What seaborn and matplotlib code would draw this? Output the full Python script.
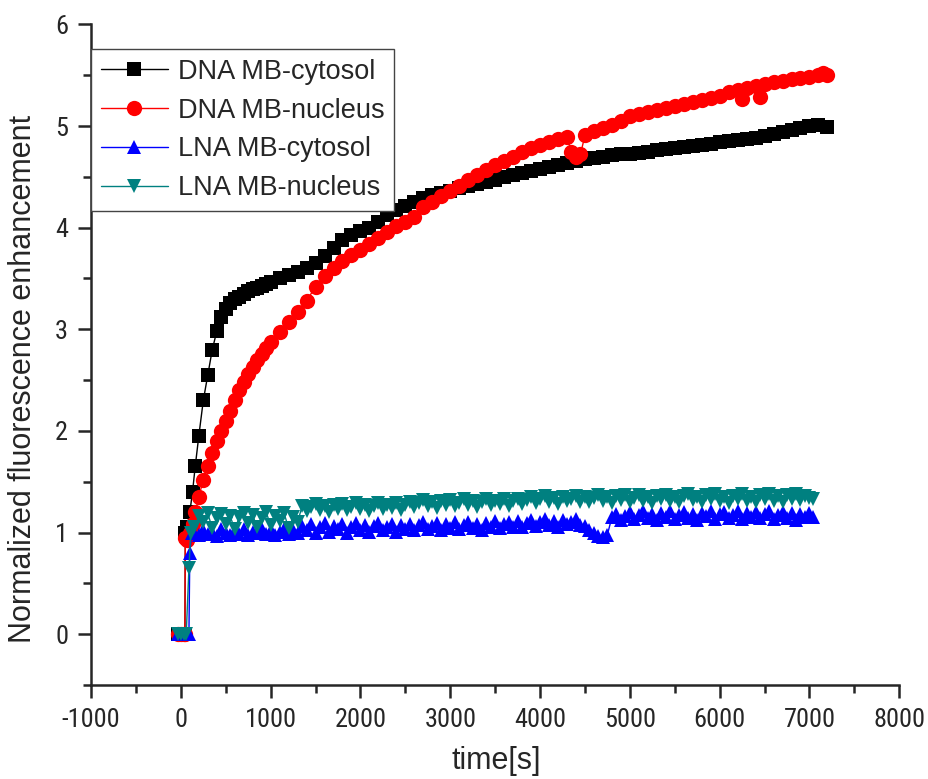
import numpy as np
import pandas as pd
import seaborn as sns
import matplotlib.pyplot as plt
from matplotlib import font_manager
from matplotlib.ticker import MultipleLocator

# ---- data ----
t_dna = [-30, 0, 30, 45, 50, 70, 100, 130, 160, 200, 250, 300, 350, 400, 450, 500, 550, 600,
         650, 700, 750, 800, 850, 900, 950, 1000, 1100, 1200, 1300, 1400, 1500, 1600, 1700,
         1800, 1900, 2000, 2100, 2200, 2300, 2400, 2500, 2600, 2700, 2800, 2900, 3000, 3100,
         3200, 3300, 3400, 3500, 3600, 3700, 3800, 3900, 4000, 4100, 4200, 4300, 4400, 4500,
         4600, 4700, 4800, 4900, 5000, 5100, 5200, 5300, 5400, 5500, 5600, 5700, 5800, 5900,
         6000, 6100, 6200, 6300, 6400, 6500, 6600, 6700, 6800, 6900, 7000, 7100, 7200]
dna_cyto = [0, 0, 0, 0, 1.0, 1.05, 1.2, 1.4, 1.65, 1.95, 2.3, 2.55, 2.8, 2.98, 3.12, 3.2, 3.26, 3.3,
            3.32, 3.35, 3.38, 3.4, 3.41, 3.43, 3.45, 3.47, 3.5, 3.53, 3.56, 3.6, 3.65, 3.72, 3.8,
            3.88, 3.93, 3.97, 4.0, 4.06, 4.12, 4.17, 4.21, 4.25, 4.29, 4.32, 4.34, 4.36, 4.39,
            4.41, 4.43, 4.45, 4.47, 4.5, 4.52, 4.54, 4.56, 4.58, 4.6, 4.62, 4.64, 4.66, 4.68,
            4.69, 4.7, 4.71, 4.72, 4.72, 4.73, 4.74, 4.76, 4.77, 4.78, 4.79, 4.8, 4.81, 4.82,
            4.84, 4.85, 4.86, 4.87, 4.88, 4.9, 4.92, 4.94, 4.96, 4.98, 5.0, 5.01, 4.99]

t_dna_nuc = [-30, 0, 30, 45, 50, 70, 100, 130, 160, 200, 250, 300, 350, 400, 450, 500, 550, 600,
             650, 700, 750, 800, 850, 900, 950, 1000, 1100, 1200, 1300, 1400, 1500, 1600, 1700,
             1800, 1900, 2000, 2100, 2200, 2300, 2400, 2500, 2600, 2700, 2800, 2900, 3000, 3100,
             3200, 3300, 3400, 3500, 3600, 3700, 3800, 3900, 4000, 4100, 4200, 4300, 4350, 4400,
             4450, 4500, 4600, 4700, 4800, 4900, 5000, 5100, 5200, 5300, 5400, 5500, 5600, 5700,
             5800, 5900, 6000, 6100, 6200, 6250, 6300, 6400, 6450, 6500, 6600, 6700, 6800, 6900,
             7000, 7100, 7150, 7200]
dna_nuc = [0, 0, 0, 0, 0.95, 0.93, 1.0, 1.08, 1.2, 1.35, 1.52, 1.65, 1.78, 1.9, 2.0, 2.1, 2.2, 2.3,
           2.4, 2.48, 2.56, 2.63, 2.7, 2.76, 2.82, 2.87, 2.97, 3.07, 3.17, 3.28, 3.42, 3.52, 3.6,
           3.67, 3.73, 3.78, 3.84, 3.9, 3.96, 4.02, 4.06, 4.1, 4.2, 4.25, 4.31, 4.36, 4.41,
           4.47, 4.52, 4.57, 4.62, 4.66, 4.7, 4.74, 4.78, 4.81, 4.84, 4.87, 4.89, 4.74, 4.7,
           4.72, 4.91, 4.95, 4.98, 5.01, 5.05, 5.1, 5.12, 5.14, 5.16, 5.18, 5.2, 5.22, 5.24,
           5.26, 5.28, 5.3, 5.33, 5.35, 5.27, 5.37, 5.39, 5.29, 5.41, 5.43, 5.44, 5.46, 5.47,
           5.48, 5.5, 5.52, 5.5]

# LNA probes were sampled every 50 s after the start
t_lna = [-30, 0, 30, 60, 90, 100, 120] + list(range(150, 7001, 50)) + [7040]
lna_cyto = ([0, 0, 0, 0, 0, 0.8, 1.0] +
            [1.00, 0.98, 1.02, 0.99, 1.01, 0.97, 1.03, 1.00, 0.98, 1.02, 0.99, 1.03,
             0.98, 1.01, 1.00, 1.03, 0.99, 1.02, 0.98, 1.01, 1.03, 0.99, 1.02, 1.00] +
            [1.06, 1.02, 1.08, 1.00, 1.05, 1.09, 1.01, 1.06, 1.03, 1.08, 1.00, 1.05,
             1.09, 1.02, 1.07, 1.01, 1.06, 1.09, 1.02, 1.05, 1.08, 1.01, 1.07, 1.03] +
            [1.08, 1.02, 1.07, 1.10, 1.03, 1.06, 1.09, 1.02, 1.08, 1.04, 1.10, 1.03,
             1.07, 1.10, 1.04, 1.08, 1.02, 1.09, 1.05, 1.11, 1.04, 1.08, 1.10, 1.05] +
            [1.11, 1.05, 1.09, 1.12, 1.06, 1.10, 1.13, 1.07, 1.11, 1.05, 1.12, 1.08,
             1.10, 1.13, 1.07] +
            [1.06, 1.02, 1.00, 0.97, 0.96, 0.98, 1.15] +
            [1.18, 1.12, 1.16, 1.20, 1.13, 1.17, 1.21, 1.14, 1.18, 1.12, 1.19, 1.15,
             1.21, 1.13, 1.17, 1.20, 1.14, 1.18, 1.12, 1.19, 1.16, 1.21, 1.13, 1.18,
             1.20, 1.14, 1.17, 1.21, 1.13, 1.19, 1.15, 1.20, 1.14, 1.18, 1.21, 1.13,
             1.17, 1.20, 1.14, 1.19, 1.12, 1.18, 1.15, 1.19] +
            [1.15])

t_lna_nuc = [-30, 0, 30, 60, 90, 110] + list(range(150, 7001, 50)) + [7040]
lna_nuc = ([0, 0, 0, 0, 0.65, 1.0] +
           [1.05, 1.16, 1.10, 1.19, 1.04, 1.14, 1.18, 1.08, 1.16, 1.03, 1.15, 1.19,
            1.09, 1.17, 1.05, 1.14, 1.20, 1.07, 1.16, 1.11, 1.19, 1.04, 1.15, 1.10] +
           [1.26, 1.21, 1.25, 1.28, 1.22, 1.26, 1.20, 1.27, 1.23, 1.28, 1.22, 1.25,
            1.29, 1.23, 1.27, 1.21, 1.26, 1.29, 1.23, 1.27, 1.24, 1.29, 1.22, 1.27] +
           [1.30, 1.25, 1.29, 1.32, 1.26, 1.30, 1.24, 1.31, 1.27, 1.32, 1.26, 1.29,
            1.33, 1.27, 1.31, 1.25, 1.30, 1.33, 1.27, 1.31, 1.28, 1.33, 1.26, 1.31] +
           [1.33, 1.28, 1.32, 1.35, 1.29, 1.33, 1.36, 1.30, 1.34, 1.28, 1.35, 1.31,
            1.33, 1.36, 1.30] +
           [1.35, 1.30, 1.34, 1.37, 1.31, 1.35, 1.29, 1.36, 1.32, 1.37,
            1.30, 1.34, 1.37, 1.31, 1.35, 1.29, 1.36, 1.33, 1.37, 1.31,
            1.35, 1.30, 1.36, 1.38, 1.32, 1.35, 1.30, 1.37, 1.33, 1.38,
            1.31, 1.35, 1.29, 1.36, 1.33, 1.38, 1.31, 1.35, 1.30, 1.37,
            1.33, 1.38, 1.31, 1.36, 1.30, 1.37, 1.33, 1.38, 1.32, 1.36,
            1.34] +
           [1.33])

labels = ["DNA MB-cytosol", "DNA MB-nucleus", "LNA MB-cytosol", "LNA MB-nucleus"]
colors = ["#000000", "#ff0000", "#0000ff", "#008080"]
markers = ["s", "o", "^", "v"]
msizes = [9.5, 11, 10, 10]

sns.set_style("ticks")
plt.rcParams['font.family'] = ['Liberation Sans', 'DejaVu Sans']
plt.rcParams['axes.unicode_minus'] = False

# narrow face for tick labels if one is around
installed = {f.name for f in font_manager.fontManager.ttflist}
narrow = None
for cand in ["Liberation Sans Narrow", "Roboto Condensed", "DejaVu Sans Condensed",
             "Open Sans Condensed", "Noto Sans Condensed"]:
    if cand in installed:
        narrow = cand
        break

fig = plt.figure(figsize=(9.29, 7.79), dpi=100)
ax = fig.add_axes([0.098, 0.1207, 0.87, 0.848])

series = [(t_dna, dna_cyto), (t_dna_nuc, dna_nuc), (t_lna, lna_cyto), (t_lna_nuc, lna_nuc)]
for (tt, vv), lab, col, mk, ms in zip(series, labels, colors, markers, msizes):
    df = pd.DataFrame({"time": tt, "value": vv})
    sns.lineplot(data=df, x="time", y="value", ax=ax, color=col, marker=mk,
                 markersize=ms, markeredgewidth=0, linewidth=1, label=lab,
                 estimator=None, sort=False)

ax.set_xlim(-1000, 8000)
ax.set_ylim(-0.5, 6)
ax.xaxis.set_major_locator(MultipleLocator(1000))
ax.xaxis.set_minor_locator(MultipleLocator(500))
ax.yaxis.set_major_locator(MultipleLocator(1))
ax.yaxis.set_minor_locator(MultipleLocator(0.5))
tick_size = 19 if narrow else 17
ax.tick_params(which="major", direction="out", length=9.5, width=1.8, labelsize=tick_size, pad=7)
ax.tick_params(which="minor", direction="out", length=6, width=1.8)
if narrow:
    for lbl in ax.get_xticklabels() + ax.get_yticklabels():
        lbl.set_family([narrow, 'Liberation Sans'])

for s in ["top", "right"]:
    ax.spines[s].set_visible(False)
for s in ["left", "bottom"]:
    ax.spines[s].set_linewidth(1.8)

ax.set_xlabel("time[s]", fontsize=22)
ax.set_ylabel("Normalized fluorescence enhancement", fontsize=22)
ax.xaxis.set_label_coords(0.501, -0.093)
ax.yaxis.set_label_coords(-0.066, 0.463)

leg = ax.legend(loc="upper left", bbox_to_anchor=(0.0, 0.962), fontsize=19.5, frameon=True,
                fancybox=False, edgecolor="#444444", framealpha=1.0, handlelength=2.5,
                borderpad=0.35, labelspacing=0.47, handletextpad=0.35, borderaxespad=0.0)
leg.get_frame().set_linewidth(1.0)

fig.savefig("out.png", dpi=100)
